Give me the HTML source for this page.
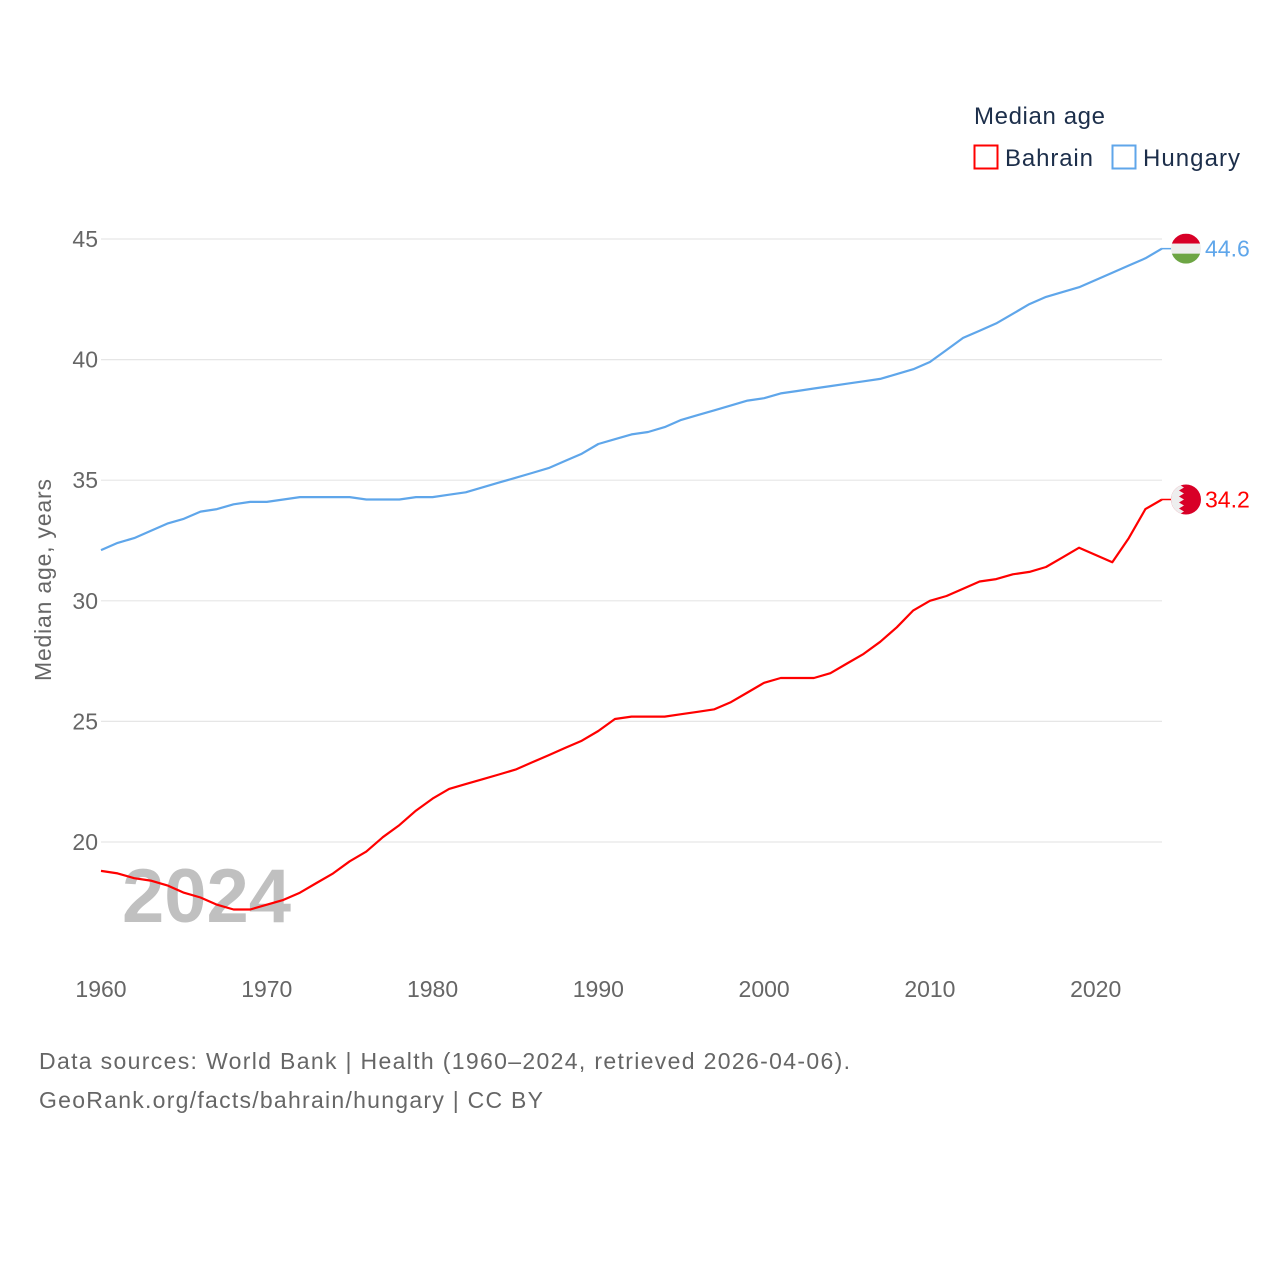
<!DOCTYPE html>
<html><head><meta charset="utf-8">
<style>
html,body{margin:0;padding:0;background:#fff;}
body{width:1280px;height:1280px;position:relative;overflow:hidden;font-family:"Liberation Sans",sans-serif;}
svg text{font-family:"Liberation Sans",sans-serif;}
</style></head>
<body>
<svg id="chart" width="1280" height="1280" viewBox="0 0 1280 1280" xmlns="http://www.w3.org/2000/svg">
  <g id="grid"></g>
  <g id="yticks"></g>
  <g id="xticks"></g>
  <text x="122" y="922" font-size="76" font-weight="bold" fill="#c0c0c0">2024</text>
  <g id="series"></g>
  <text transform="translate(51,580) rotate(-90)" text-anchor="middle" font-size="23" fill="#666" textLength="202" lengthAdjust="spacing">Median age, years</text>
  <g>
    <text x="974" y="124" font-size="24" fill="#1c2e4a" textLength="131" lengthAdjust="spacing">Median age</text>
    <rect x="974.5" y="145.5" width="23" height="23" fill="none" stroke="#ff0000" stroke-width="2"/>
    <text x="1005" y="166" font-size="24" fill="#1c2e4a" textLength="88" lengthAdjust="spacing">Bahrain</text>
    <rect x="1112.5" y="145.5" width="23" height="23" fill="none" stroke="#5fa6ea" stroke-width="2"/>
    <text x="1143" y="166" font-size="24" fill="#1c2e4a" textLength="97" lengthAdjust="spacing">Hungary</text>
  </g>
  <text x="39" y="1069" font-size="23" fill="#666" textLength="811" lengthAdjust="spacing">Data sources: World Bank | Health (1960–2024, retrieved 2026-04-06).</text>
  <text x="39" y="1108" font-size="23" fill="#666" textLength="504" lengthAdjust="spacing">GeoRank.org/facts/bahrain/hungary | CC BY</text>
</svg>
<script>
const years = [];
for (let y = 1960; y <= 2024; y++) years.push(y);
const hungary = [32.1,32.4,32.6,32.9,33.2,33.4,33.7,33.8,34.0,34.1,34.1,34.2,34.3,34.3,34.3,34.3,34.2,34.2,34.2,34.3,34.3,34.4,34.5,34.7,34.9,35.1,35.3,35.5,35.8,36.1,36.5,36.7,36.9,37.0,37.2,37.5,37.7,37.9,38.1,38.3,38.4,38.6,38.7,38.8,38.9,39.0,39.1,39.2,39.4,39.6,39.9,40.4,40.9,41.2,41.5,41.9,42.3,42.6,42.8,43.0,43.3,43.6,43.9,44.2,44.6];
const bahrain = [18.8,18.7,18.5,18.4,18.2,17.9,17.7,17.4,17.2,17.2,17.4,17.6,17.9,18.3,18.7,19.2,19.6,20.2,20.7,21.3,21.8,22.2,22.4,22.6,22.8,23.0,23.3,23.6,23.9,24.2,24.6,25.1,25.2,25.2,25.2,25.3,25.4,25.5,25.8,26.2,26.6,26.8,26.8,26.8,27.0,27.4,27.8,28.3,28.9,29.6,30.0,30.2,30.5,30.8,30.9,31.1,31.2,31.4,31.8,32.2,31.9,31.6,32.6,33.8,34.2];
const yTicks = [20,25,30,35,40,45];
const xTicks = [1960,1970,1980,1990,2000,2010,2020];

const NS = "http://www.w3.org/2000/svg";
const xS = v => 101 + (v - 1960) * (1162 - 101) / 64;
const yS = v => 842 - (v - 20) * (842 - 239) / 25;
function mk(tag, attrs, parent) {
  const e = document.createElementNS(NS, tag);
  for (const k in attrs) e.setAttribute(k, attrs[k]);
  parent.appendChild(e);
  return e;
}
const grid = document.getElementById('grid');
const yt = document.getElementById('yticks');
const xt = document.getElementById('xticks');
const ser = document.getElementById('series');
yTicks.forEach(t => {
  const l = mk('line', {x1: 101, x2: 1162, y1: yS(t), y2: yS(t), stroke: '#e6e6e6', 'stroke-width': 1.2}, grid);
  
  
  const tx = mk('text', {x: 98, y: yS(t) + 8, 'text-anchor': 'end', 'font-size': 23, fill: '#666'}, yt);
  tx.textContent = t;
  
  
});
xTicks.forEach(t => {
  const tx = mk('text', {x: xS(t), y: 997, 'text-anchor': 'middle', 'font-size': 23, fill: '#666'}, xt);
  tx.textContent = t;
  
  
});
function drawSeries(vals, color, name) {
  const pts = vals.map((v, i) => xS(years[i]).toFixed(1) + ',' + yS(v).toFixed(1)).join(' ');
  const pl = mk('polyline', {points: pts, fill: 'none', stroke: color, 'stroke-width': 2.2, 'stroke-linejoin': 'round'}, ser);
  
  
  const last = vals[vals.length - 1];
  const ly = yS(last);
  const c = mk('line', {x1: xS(2024), x2: 1172, y1: ly, y2: ly, stroke: color, 'stroke-width': 1.5}, ser);
  
  
  const g = mk('g', {}, ser);
  
  
  const cid = 'clip-' + name;
  const cp = mk('clipPath', {id: cid}, g);
  mk('circle', {cx: 1186, cy: ly, r: 15}, cp);
  const fg = mk('g', {'clip-path': 'url(#' + cid + ')'}, g);
  if (name === 'hungary') {
    mk('rect', {x: 1171, y: ly - 15, width: 30, height: 10, fill: '#d80027'}, fg);
    mk('rect', {x: 1171, y: ly - 5, width: 30, height: 10, fill: '#eeeeee'}, fg);
    mk('rect', {x: 1171, y: ly + 5, width: 30, height: 10, fill: '#6da544'}, fg);
  } else {
    mk('rect', {x: 1171, y: ly - 15, width: 30, height: 30, fill: '#d80027'}, fg);
    let d = 'M1171,' + (ly - 15);
    for (let k = 0; k < 5; k++) {
      const y0 = ly - 15 + k * 6;
      d += ' L1179,' + y0 + ' L1184,' + (y0 + 3) + ' L1179,' + (y0 + 6);
    }
    d += ' L1171,' + (ly + 15) + ' Z';
    mk('path', {d: d, fill: '#eeeeee'}, fg);
  }
  const lb = mk('text', {x: 1205, y: ly + 8, 'font-size': 23, fill: color}, ser);
  lb.textContent = last.toFixed(1);
  
  
}
drawSeries(hungary, '#5fa6ea', 'hungary');
drawSeries(bahrain, '#ff0000', 'bahrain');
</script>
</body></html>
